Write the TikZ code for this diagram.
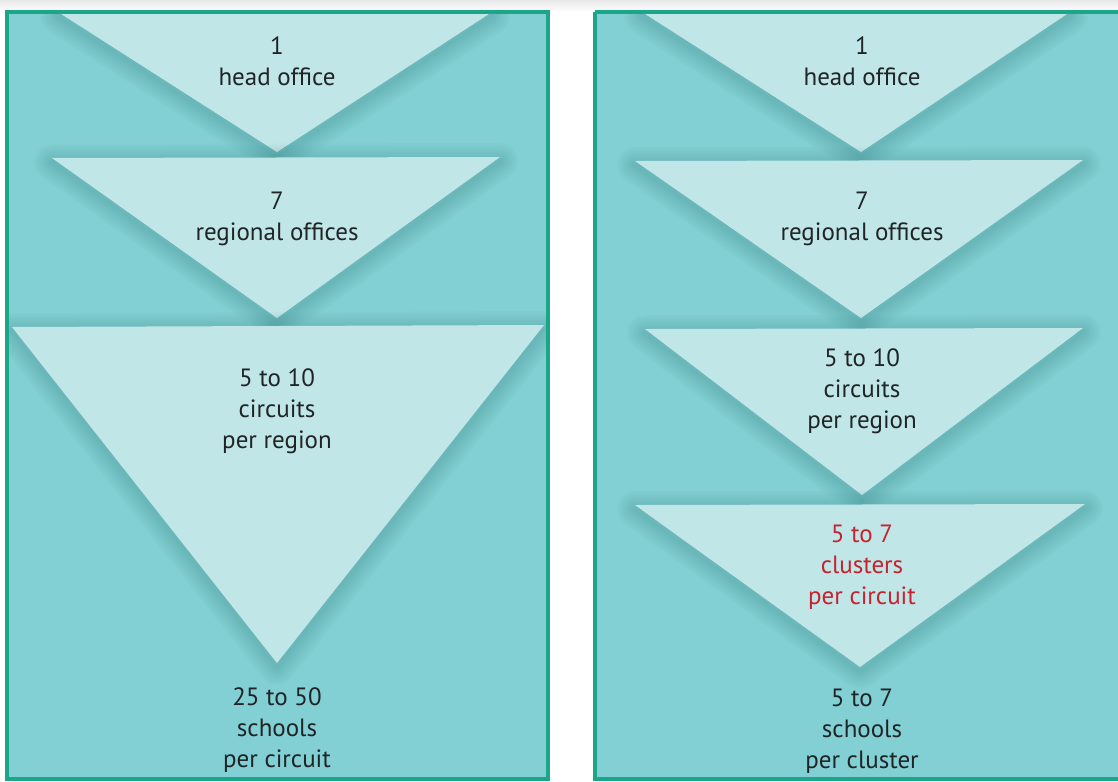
\documentclass[tikz,border=0pt]{standalone}
\usepackage{fontspec}
\setmainfont{PT Sans}
\definecolor{panelfill}{HTML}{82CFD4}
\definecolor{panelline}{HTML}{1BA68A}
\definecolor{trifill}{HTML}{C1E6E7}
\definecolor{txt}{HTML}{1F2427}
\definecolor{redtxt}{HTML}{C4232F}
\tikzset{
  tri/.style={fill=trifill},
  shadowlayer/.style={draw=black!70!teal, line join=round, draw opacity=0.012},
  lbl/.style={text=txt, font=\fontsize{25}{31}\selectfont, align=center, inner sep=0pt},
  redlbl/.style={lbl, text=redtxt}
}
\newcommand\shadtri[3]{%
  \foreach \k in {3,6,...,36}{%
    \path[shadowlayer, yshift=-4pt, line width=\k pt] #1 -- #2 -- #3 -- cycle;
  }%
  \fill[tri] #1 -- #2 -- #3 -- cycle;
}
\begin{document}
\begin{tikzpicture}[x=1pt,y=-1pt]
\useasboundingbox (0,0) rectangle (1118,781);
\fill[white] (0,0) rectangle (1118,781);
\shade[top color=black!9, bottom color=white] (0,0) rectangle (1118,12);
% left panel
\begin{scope}
\clip (7,12) rectangle (548,779);
\fill[panelfill] (7,12) rectangle (548,779);
\shadtri{(58,12)}{(492,12)}{(277,152)}
\shadtri{(52,158)}{(500,157)}{(277,318)}
\shadtri{(12,327)}{(544,325)}{(277,663)}
\end{scope}
\draw[panelline, line width=4pt] (7,12) rectangle (548,779);
% right panel
\begin{scope}
\clip (595,12) rectangle (1130,779);
\fill[panelfill] (595,12) rectangle (1130,779);
\shadtri{(642,12)}{(1070,12)}{(861,152)}
\shadtri{(635,161)}{(1083,160)}{(861,318)}
\shadtri{(645,329)}{(1083,328)}{(862,495)}
\shadtri{(635,505)}{(1085,504)}{(860,667)}
\end{scope}
\draw[panelline, line width=4pt] (595,12) -- (595,779) -- (1130,779) (595,12) -- (1130,12);
% left labels
\node[lbl] (l1) at (277,61) {1\\head office};
\node[lbl] (l2) at (277,219) {7\\regional offices};
\node[lbl] (l3) at (277,411) {5 to 10\\circuits\\per region};
\node[lbl] (l4) at (277,730) {25 to 50\\schools\\per circuit};
% right labels
\node[lbl] (r1) at (862,61) {1\\head office};
\node[lbl] (r2) at (862,219) {7\\regional offices};
\node[lbl] (r3) at (862,391) {5 to 10\\circuits\\per region};
\node[redlbl] (r4) at (862,567) {5 to 7\\clusters\\per circuit};
\node[lbl] (r5) at (862,731) {5 to 7\\schools\\per cluster};
\end{tikzpicture}
\end{document}
